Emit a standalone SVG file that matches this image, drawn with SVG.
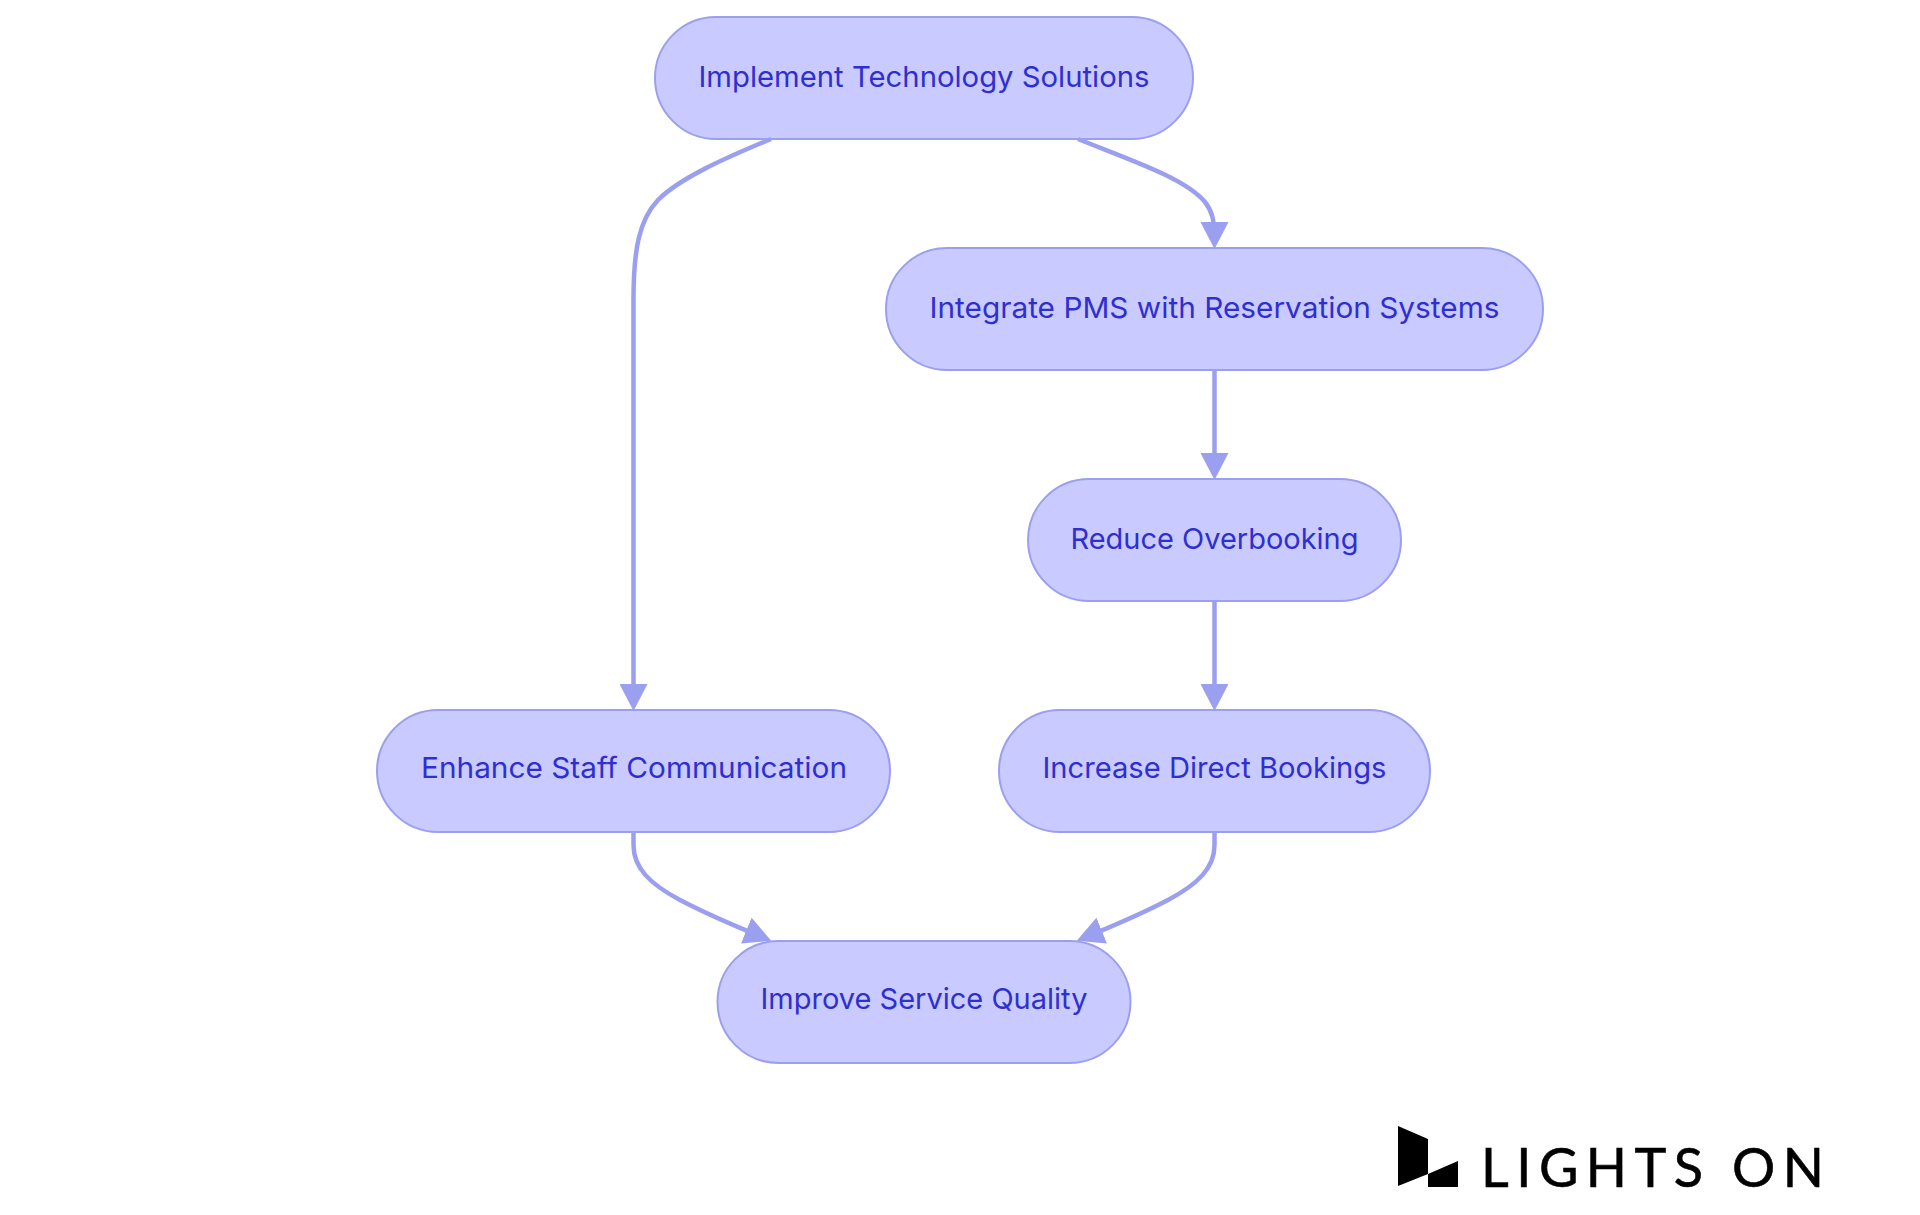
<svg xmlns="http://www.w3.org/2000/svg" width="1920" height="1215" viewBox="0 0 1920 1215">
<style>
.n{fill:#c9caff;stroke:#9b9ff0;stroke-width:2}
.t{font-family:"Inter","Noto Sans",sans-serif;font-size:29px;fill:#2f2fcf;text-anchor:middle}
.e{fill:none;stroke:#9b9ff0;stroke-width:4.5;marker-end:url(#a)}
</style>
<defs><marker id="a" markerUnits="userSpaceOnUse" markerWidth="27" markerHeight="28" viewBox="0 0 27 28" refX="17" refY="14" orient="auto"><path d="M0,0L27,14L0,28Z" fill="#9b9ff0"/></marker></defs>
<rect width="1920" height="1215" fill="#fff"/>
<g id="node1"><rect class="n" x="655" y="17" width="538" height="122" rx="61"/><text class="t" x="924" y="87" textLength="451" lengthAdjust="spacingAndGlyphs">Implement Technology Solutions</text></g>
<g id="node2"><rect class="n" x="886" y="248" width="657" height="122" rx="61"/><text class="t" x="1214.5" y="318" textLength="570" lengthAdjust="spacingAndGlyphs">Integrate PMS with Reservation Systems</text></g>
<g id="node3"><rect class="n" x="1028" y="479" width="373" height="122" rx="61"/><text class="t" x="1214.5" y="549" textLength="288" lengthAdjust="spacingAndGlyphs">Reduce Overbooking</text></g>
<g id="node4"><rect class="n" x="999" y="710" width="431" height="122" rx="61"/><text class="t" x="1214.5" y="778" textLength="344" lengthAdjust="spacingAndGlyphs">Increase Direct Bookings</text></g>
<g id="node5"><rect class="n" x="377" y="710" width="513" height="122" rx="61"/><text class="t" x="634" y="778" textLength="426" lengthAdjust="spacingAndGlyphs">Enhance Staff Communication</text></g>
<g id="node6"><rect class="n" x="717.5" y="941" width="413" height="122" rx="61"/><text class="t" x="924" y="1009" textLength="327" lengthAdjust="spacingAndGlyphs">Improve Service Quality</text></g>
<g id="connectors">
<path class="e" d="M771,139C725,158 680,178 658,200C639,220 633.5,250 633.5,300L633.5,701"/>
<path class="e" d="M1078,139C1130,160 1185,178 1205,202C1212,211 1214.5,220 1214.5,239"/>
<path class="e" d="M1214.5,370L1214.5,470"/>
<path class="e" d="M1214.5,601L1214.5,701"/>
<path class="e" d="M633.5,832L633.5,845C633.5,868 650,884 680,900C705,913 730,924 762,937"/>
<path class="e" d="M1214.5,832L1214.5,845C1214.5,868 1198,884 1168,900C1143,913 1118,924 1086,937"/>
</g>
<g id="logo"><path d="M1398,1126L1428,1139L1428,1174L1458,1161L1458,1187L1428,1187L1428,1174L1398,1186Z" fill="#000"/><text x="1481" y="1187" font-family="Lato,&quot;Liberation Sans&quot;,sans-serif" font-size="54" textLength="343" fill="#000" stroke="#000" stroke-width="0.6">LIGHTS ON</text></g>
</svg>
